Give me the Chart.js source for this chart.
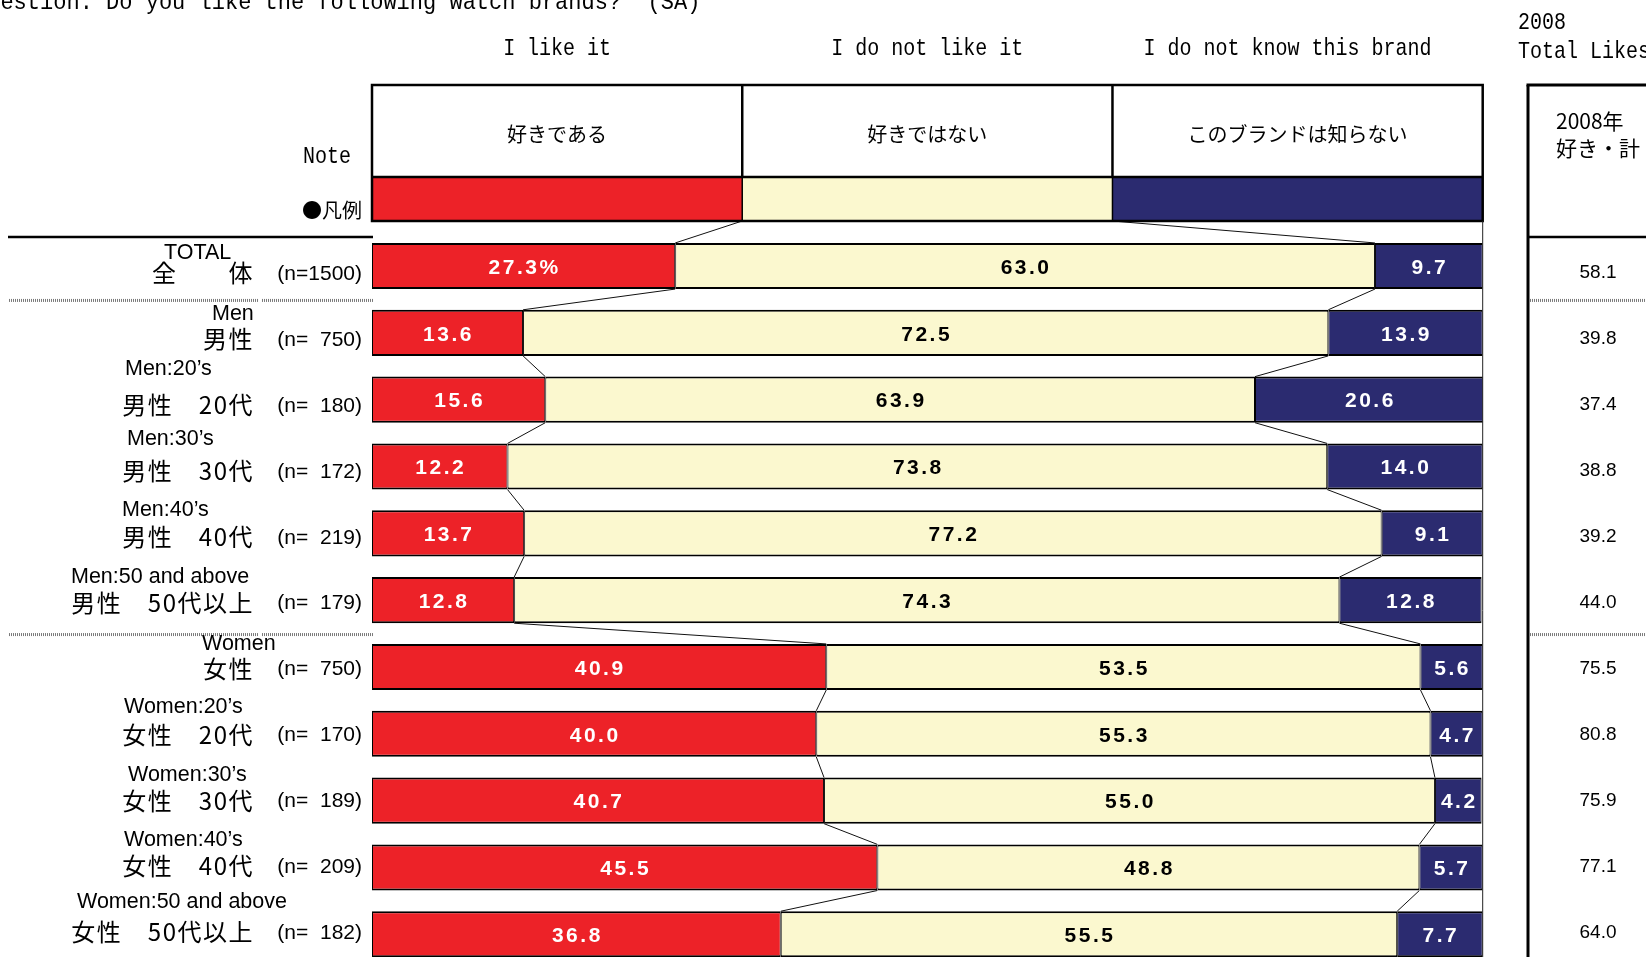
<!DOCTYPE html>
<html lang="ja">
<head>
<meta charset="utf-8">
<title>Watch brand likes</title>
<script src="https://cdn.jsdelivr.net/npm/chart.js@4.4.1/dist/chart.umd.min.js"></script>
<style>
  html, body { margin: 0; padding: 0; background: #fff; overflow: hidden; }
  #wrap { position: relative; width: 1646px; height: 1000px; }
</style>
</head>
<body>
<div id="wrap"><canvas id="likeChart"></canvas></div>
<script>
// --- data ---
const GROUPS_JA = ['全　　体', '男性', '男性　20代', '男性　30代', '男性　40代', '男性　50代以上',
                   '女性', '女性　20代', '女性　30代', '女性　40代', '女性　50代以上'];
const GROUPS_EN = ['TOTAL', 'Men', 'Men:20’s', 'Men:30’s', 'Men:40’s', 'Men:50 and above',
                   'Women', 'Women:20’s', 'Women:30’s', 'Women:40’s', 'Women:50 and above'];
const SAMPLE_N = [1500, 750, 180, 172, 219, 179, 750, 170, 189, 209, 182];
const LIKE     = [27.3, 13.6, 15.6, 12.2, 13.7, 12.8, 40.9, 40.0, 40.7, 45.5, 36.8];
const DISLIKE  = [63.0, 72.5, 63.9, 73.8, 77.2, 74.3, 53.5, 55.3, 55.0, 48.8, 55.5];
const UNKNOWN  = [9.7, 13.9, 20.6, 14.0, 9.1, 12.8, 5.6, 4.7, 4.2, 5.7, 7.7];
const LIKES_2008 = [58.1, 39.8, 37.4, 38.8, 39.2, 44.0, 75.5, 80.8, 75.9, 77.1, 64.0];
const ANSWERS_JA = ['好きである', '好きではない', 'このブランドは知らない'];
const ANSWERS_EN = ['I like it', 'I do not like it', 'I do not know this brand'];
const SEPARATE_AFTER = [0, 5]; // group rules under TOTAL and Men 50+

// --- layout (not data) ---
const COLORS = ['#ED2228', '#FBF8CF', '#2B2B70'];
const TEXT_ON = ['#fff', '#000', '#fff'];
const HEAD_TOP = 85, HEAD_MID = 177, HEAD_BOT = 221, RULE_Y = 237;
const TABLE_X = 1528, JA_RIGHT = 254, N_RIGHT = 362;
// left edge and vertical offset of each english caption
const EN_POS = [[164, -13], [212, -19], [125, -31], [127, -27], [122, -23], [71, -23],
                [202, -23], [124, -27], [128, -26], [124, -27], [77, -32]];
const MONO = '"Liberation Mono", "DejaVu Sans Mono", monospace';
const JP = '"Noto Sans CJK JP", sans-serif';
const SANS = '"Liberation Sans", Arial, sans-serif';

function txt(ctx, s, x, y, font, align, sx, color, spacing) {
    ctx.save();
    ctx.font = font;
    ctx.fillStyle = color || '#000';
    ctx.textAlign = align || 'left';
    ctx.textBaseline = 'middle';
    if (spacing) ctx.letterSpacing = spacing;
    ctx.translate(x, y);
    ctx.scale(sx || 1, 1);
    ctx.fillText(s, 0, 0);
    ctx.restore();
}

function seg(ctx, x1, y1, x2, y2, w, color, dash) {
    ctx.save();
    ctx.beginPath();
    ctx.lineWidth = w;
    ctx.strokeStyle = color || '#000';
    if (dash) ctx.setLineDash(dash);
    ctx.moveTo(x1, y1);
    ctx.lineTo(x2, y2);
    ctx.stroke();
    ctx.restore();
}

const sheetPlugin = {
    id: 'sheet',
    afterDatasetsDraw(chart) {
        const ctx = chart.ctx;
        const xs = chart.scales.x;
        // series lines joining the segment boundaries
        for (let d = 0; d < 2; d++) {
            const els = chart.getDatasetMeta(d).data;
            const first = els[0];
            seg(ctx, xs.getPixelForValue((d + 1) * 100 / 3), HEAD_BOT, first.x, first.y - first.height / 2, 1, '#111');
            for (let i = 0; i < els.length - 1; i++) {
                const a = els[i], b = els[i + 1];
                seg(ctx, a.x, a.y + a.height / 2, b.x, b.y - b.height / 2, 1, '#111');
            }
        }
        // value labels
        chart.data.datasets.forEach((ds, d) => {
            chart.getDatasetMeta(d).data.forEach((el, i) => {
                const s = ds.data[i].toFixed(1) + (i === 0 && d === 0 ? '%' : '');
                txt(ctx, s, (el.x + el.base) / 2 + 1, el.y + 2, 'bold 21px ' + SANS, 'center', 1, TEXT_ON[d], '2.5px');
            });
        });
    },
    afterDraw(chart) {
        const ctx = chart.ctx;
        const xs = chart.scales.x, ys = chart.scales.y;
        const right = xs.getPixelForValue(100);
        const cols = [0, 100 / 3, 200 / 3, 100].map(v => xs.getPixelForValue(v));
        const rowDy = i => 7 - 0.9 * i; // sheet rows drift slightly against the bars

        // title, clipped at the top-left like the source sheet
        txt(ctx, 'Question: Do you like the following watch brands?  (SA)', -26, 3, '24px ' + MONO, 'left', 0.917);

        // header captions
        const enX = [cols[0] + (cols[1] - cols[0]) / 2, cols[1] + (cols[2] - cols[1]) / 2, cols[2] + (cols[3] - cols[2]) / 2 - 10];
        ANSWERS_EN.forEach((s, k) => txt(ctx, s, enX[k], 49, '24px ' + MONO, 'center', 0.833));
        txt(ctx, '2008', 1518, 23, '24px ' + MONO, 'left', 0.833);
        txt(ctx, 'Total Likes', 1518, 52, '24px ' + MONO, 'left', 0.833);

        // header box with legend swatches
        for (let k = 0; k < 3; k++) {
            ctx.fillStyle = COLORS[k];
            ctx.fillRect(cols[k], HEAD_MID, cols[k + 1] - cols[k], HEAD_BOT - HEAD_MID);
            txt(ctx, ANSWERS_JA[k], (cols[k] + cols[k + 1]) / 2, (HEAD_TOP + HEAD_MID) / 2 + 3, '20px ' + JP, 'center');
        }
        for (let k = 1; k < 3; k++) {
            seg(ctx, cols[k], HEAD_TOP, cols[k], HEAD_MID, 2.5);
            seg(ctx, cols[k], HEAD_MID, cols[k], HEAD_BOT, 1.5);
        }
        seg(ctx, cols[0], HEAD_MID, right, HEAD_MID, 2.5);
        ctx.save();
        ctx.lineWidth = 2.5;
        ctx.strokeStyle = '#000';
        ctx.strokeRect(cols[0], HEAD_TOP, right - cols[0], HEAD_BOT - HEAD_TOP);
        ctx.restore();
        seg(ctx, right, HEAD_BOT, right, chart.height, 1, '#222');

        txt(ctx, 'Note', 303, 157, '24px ' + MONO, 'left', 0.833);
        txt(ctx, '●凡例', 302, 210, '20px ' + JP, 'left');

        // left rules
        seg(ctx, 8, RULE_Y, cols[0] + 1, RULE_Y, 2.5);
        SEPARATE_AFTER.forEach(i => {
            const y = (ys.getPixelForValue(i) + ys.getPixelForValue(i + 1)) / 2 + 1;
            seg(ctx, 9, y, 258, y, 3, '#7a7a7a', [1, 1]);
            seg(ctx, 262, y, cols[0] + 1, y, 3, '#7a7a7a', [1, 1]);
            seg(ctx, TABLE_X + 2, y, chart.width, y, 3, '#7a7a7a', [1, 1]);
        });

        // row labels
        GROUPS_JA.forEach((s, i) => {
            const yc = ys.getPixelForValue(i) + rowDy(i);
            txt(ctx, s, JA_RIGHT, yc, '24px ' + JP, 'right', 1, '#000', '1.5px');
            const n = String(SAMPLE_N[i]);
            txt(ctx, '(n=' + (n.length < 4 ? '  ' + n : n) + ')', N_RIGHT, yc + 1, '21px ' + SANS, 'right');
            txt(ctx, GROUPS_EN[i], EN_POS[i][0], ys.getPixelForValue(i) + EN_POS[i][1], '21.5px ' + SANS, 'left');
        });

        // 2008 totals table
        seg(ctx, TABLE_X, HEAD_TOP, TABLE_X, chart.height, 3);
        seg(ctx, TABLE_X - 1.5, HEAD_TOP, chart.width, HEAD_TOP, 3);
        seg(ctx, TABLE_X, RULE_Y, chart.width, RULE_Y, 2.5);
        txt(ctx, '2008年', 1556, 121, '21px ' + JP, 'left');
        txt(ctx, '好き・計', 1556, 148, '21px ' + JP, 'left');
        LIKES_2008.forEach((v, i) => {
            txt(ctx, v.toFixed(1), 1598, ys.getPixelForValue(i) + rowDy(i), '19px ' + SANS, 'center');
        });
    }
};

const barStyle = {
    borderColor: '#000',
    borderWidth: { top: 2, bottom: 2, left: 1, right: 1 },
    borderSkipped: false,
    barPercentage: 0.69,
    categoryPercentage: 1.0
};

new Chart(document.getElementById('likeChart').getContext('2d'), {
    type: 'bar',
    data: {
        labels: GROUPS_JA,
        datasets: [
            { label: ANSWERS_JA[0], data: LIKE, backgroundColor: COLORS[0], ...barStyle },
            { label: ANSWERS_JA[1], data: DISLIKE, backgroundColor: COLORS[1], ...barStyle },
            { label: ANSWERS_JA[2], data: UNKNOWN, backgroundColor: COLORS[2], ...barStyle }
        ]
    },
    options: {
        indexAxis: 'y',
        responsive: true,
        maintainAspectRatio: false,
        animation: false,
        events: [],
        layout: { padding: { left: 372, right: 163.3, top: 232.6, bottom: 32.3 } },
        scales: {
            x: { stacked: true, min: 0, max: 100, display: false },
            y: { stacked: true, display: false }
        },
        plugins: { legend: { display: false }, tooltip: { enabled: false } }
    },
    plugins: [sheetPlugin]
});
</script>
</body>
</html>
